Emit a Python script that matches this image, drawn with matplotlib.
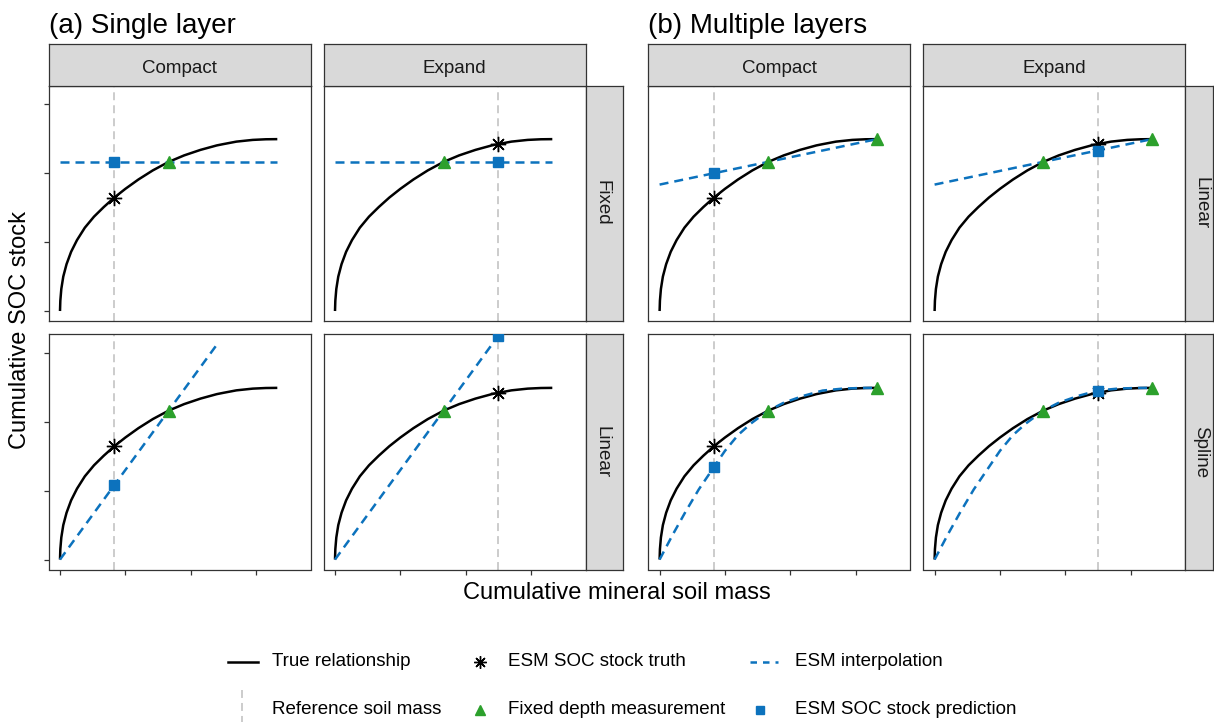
import matplotlib
matplotlib.use("Agg")
import matplotlib.pyplot as plt

plt.rcParams['font.family'] = ['Liberation Sans', 'DejaVu Sans']

# ---------------- data ----------------
true_mass = [0.000, 0.005, 0.020, 0.050, 0.100, 0.170, 0.260, 0.380, 0.520, 0.670,
             0.832, 1.000, 1.200, 1.420, 1.664, 1.900, 2.150, 2.400, 2.495, 2.700,
             2.950, 3.150, 3.326]
true_soc = [0.000, 0.150, 0.320, 0.500, 0.680, 0.860, 1.030, 1.210, 1.370, 1.510,
            1.648, 1.774, 1.910, 2.042, 2.166, 2.260, 2.340, 2.405, 2.423, 2.460,
            2.485, 2.494, 2.496]

columns = ["Compact", "Expand"]
ref_mass = [0.832, 2.495]           # reference soil mass per column
truth_soc = [1.648, 2.423]          # ESM SOC stock truth per column

single_fd_mass = [1.664]
single_fd_soc = [2.166]
multi_fd_mass = [1.664, 3.326]
multi_fd_soc = [2.166, 2.496]

# ESM SOC stock predictions per column
pred_single_fixed = [2.166, 2.166]
pred_single_linear = [1.083, 3.248]
pred_multi_linear = [2.001, 2.331]
pred_multi_spline = [1.345, 2.457]

# interpolation lines
fixed_line_mass = [0.0, 3.326]
fixed_line_soc = [2.166, 2.166]
single_linear_mass = [[0.0, 2.434], [0.0, 2.495]]
single_linear_soc = [[0.0, 3.168], [0.0, 3.248]]
multi_linear_mass = [0.0, 3.326]
multi_linear_soc = [1.836, 2.496]
spline_mass = [0.0, 0.2, 0.4, 0.6, 0.832, 1.0, 1.2, 1.4, 1.664, 1.9, 2.2, 2.495, 2.8, 3.1, 3.326]
spline_soc = [0.0, 0.36, 0.70, 1.02, 1.345, 1.58, 1.81, 1.98, 2.166, 2.28, 2.38, 2.457, 2.485, 2.495, 2.496]

axis_ticks = [0, 1, 2, 3]

# ---------------- styling ----------------
BLUE = "#0C72BD"
GREEN = "#2CA02C"
GREYREF = "#BEBEBE"
BORDER = "#333333"
STRIPFILL = "#D9D9D9"

W, H = 1214, 722
fig = plt.figure(figsize=(W / 100, H / 100), dpi=100)


def box(x0, y0, x1, y1):
    return [x0 / W, 1 - y1 / H, (x1 - x0) / W, (y1 - y0) / H]


col_x = {("a", 0): (48.7, 310.7), ("a", 1): (323.7, 585.7),
         ("b", 0): (648.3, 910.3), ("b", 1): (923.3, 1185.3)}
row_y = {0: (85.5, 321.0), 1: (334.3, 569.5)}
XLIM = (-0.173, 3.837)
YLIM = (-0.145, 3.275)


def style_border(ax):
    for s in ax.spines.values():
        s.set_color(BORDER)
        s.set_linewidth(0.9)


def strip(x0, y0, x1, y1, label, rotation=0, tx=0.5, ty=0.5):
    sax = fig.add_axes(box(x0, y0, x1, y1))
    sax.set_facecolor(STRIPFILL)
    sax.set_xticks([])
    sax.set_yticks([])
    style_border(sax)
    sax.text(tx, ty, label, transform=sax.transAxes, ha="center", va="center",
             fontsize=13.5, color="#1A1A1A", rotation=rotation)


row_labels = {"a": ["Fixed", "Linear"], "b": ["Linear", "Spline"]}
row_kinds = {"a": ["fixed", "slinear"], "b": ["mlinear", "spline"]}
row_strip_w = {"a": 37.0, "b": 28.0}

for grp in ["a", "b"]:
    for r in range(2):
        kind = row_kinds[grp][r]
        for c in range(2):
            x0, x1 = col_x[(grp, c)]
            y0, y1 = row_y[r]
            ax = fig.add_axes(box(x0, y0, x1, y1))
            ax.set_xlim(*XLIM)
            ax.set_ylim(*YLIM)
            style_border(ax)
            ax.axvline(ref_mass[c], color=GREYREF, lw=1.1, dashes=(5.2, 3.3), zorder=1)
            ax.plot(true_mass, true_soc, color="black", lw=1.8, zorder=2,
                    solid_capstyle="butt")
            if kind == "fixed":
                lx, ly = fixed_line_mass, fixed_line_soc
                fx, fy = single_fd_mass, single_fd_soc
                pred = pred_single_fixed[c]
            elif kind == "slinear":
                lx, ly = single_linear_mass[c], single_linear_soc[c]
                fx, fy = single_fd_mass, single_fd_soc
                pred = pred_single_linear[c]
            elif kind == "mlinear":
                lx, ly = multi_linear_mass, multi_linear_soc
                fx, fy = multi_fd_mass, multi_fd_soc
                pred = pred_multi_linear[c]
            else:
                lx, ly = spline_mass, spline_soc
                fx, fy = multi_fd_mass, multi_fd_soc
                pred = pred_multi_spline[c]
            ax.plot(lx, ly, color=BLUE, lw=1.8, dashes=(3.6, 2.4), zorder=3)
            ax.plot(fx, fy, linestyle="none", marker="^", ms=9, color=GREEN,
                    mec=GREEN, zorder=4)
            ax.plot([ref_mass[c]], [truth_soc[c]], linestyle="none", marker=(8, 2, 0),
                    ms=11, color="black", mew=1.0, zorder=5)
            ax.plot([ref_mass[c]], [pred], linestyle="none", marker="s", ms=7.5,
                    color=BLUE, zorder=6)
            # ticks
            if r == 1:
                ax.set_xticks(axis_ticks)
            else:
                ax.set_xticks([])
            if grp == "a" and c == 0:
                ax.set_yticks(axis_ticks)
            else:
                ax.set_yticks([])
            ax.tick_params(length=3.6, width=0.9, color=BORDER,
                           labelbottom=False, labelleft=False)
            # column strips on top row
            if r == 0:
                strip(x0, 44.0, x1, 85.5, columns[c], ty=0.42)
        # row strip
        sx0 = col_x[(grp, 1)][1]
        y0, y1 = row_y[r]
        strip(sx0, y0, sx0 + row_strip_w[grp], y1, row_labels[grp][r], rotation=-90,
              tx=0.45 if grp == "a" else 0.55)

# titles and axis labels
fig.text(49 / W, 1 - 26 / H, "(a) Single layer", fontsize=20, ha="left", va="center",
         color="black")
fig.text(648 / W, 1 - 26 / H, "(b) Multiple layers", fontsize=20, ha="left", va="center",
         color="black")
fig.text(617 / W, 1 - 593 / H, "Cumulative mineral soil mass", fontsize=17,
         ha="center", va="center")
fig.text(20 / W, 1 - 330 / H, "Cumulative SOC stock", fontsize=17, rotation=90,
         ha="center", va="center")

# ---------------- legend (manual, pixel coordinates) ----------------
lax = fig.add_axes([0, 0, 1, 1], zorder=-5)
lax.set_xlim(0, W)
lax.set_ylim(H, 0)
lax.axis("off")
ry1, ry2 = 662, 710
fs = 13.5
lax.plot([228, 258], [ry1, ry1], color="black", lw=1.8)
lax.text(272, ry1, "True relationship", fontsize=fs, va="center")
lax.plot([480], [ry1], marker=(8, 2, 0), ms=9, color="black", mew=1.0)
lax.text(508, ry1, "ESM SOC stock truth", fontsize=fs, va="center")
lax.plot([750, 778], [ry1, ry1], color=BLUE, lw=1.8, dashes=(2.6, 2.4))
lax.text(795, ry1, "ESM interpolation", fontsize=fs, va="center")
lax.plot([242, 242], [690, 722], color=GREYREF, lw=1.1, dashes=(5.2, 3.3))
lax.text(272, ry2, "Reference soil mass", fontsize=fs, va="center")
lax.plot([480], [ry2], marker="^", ms=7, color=GREEN)
lax.text(508, ry2, "Fixed depth measurement", fontsize=fs, va="center")
lax.plot([760], [ry2], marker="s", ms=5.5, color=BLUE)
lax.text(795, ry2, "ESM SOC stock prediction", fontsize=fs, va="center")

fig.savefig("out.png", dpi=100)
